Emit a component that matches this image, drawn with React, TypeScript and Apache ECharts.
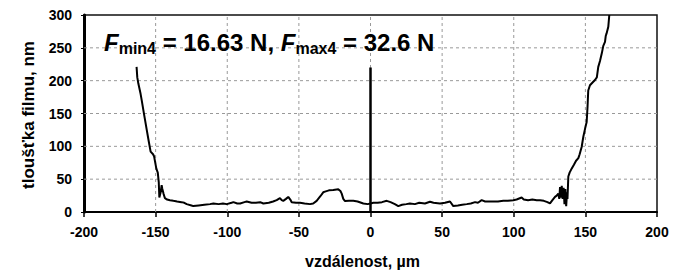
import React, { useEffect, useRef } from "react";
import * as echarts from "echarts";

const xAxisName = "vzdálenost, µm";
const yAxisName = "tloušťka filmu, nm";
const xGrid = [-150, -100, -50, 0, 50, 100, 150];
const yGrid = [50, 100, 150, 200, 250];

// film thickness profile: distance (µm) and thickness (nm)
const profileX = [
  -163.3, -162.8, -162.1, -160.5, -159.7, -158, -156.2, -155, -153.5, -151.8, -151.1, -149.5, -148.5, -147.8, -147.4,
  -146.5, -145.8, -145.3, -144.5, -143.5, -142, -140, -137.6, -135, -132, -130, -128.3, -125, -123.7, -120, -116,
  -112, -109.7, -106, -103, -100.3, -97, -95.7, -93, -91, -88, -86.4, -83, -80, -77, -74.8, -71, -68, -65.5, -63.2,
  -62, -60.9, -59, -57.4, -56, -55, -52, -49.2, -46, -42.2, -40, -37.6, -35, -33, -31.8, -29, -26, -22.5, -21, -20.1,
  -19, -17.8, -15, -12, -9, -5, -2, 0, 2, 5, 8, 11.3, 14, 17, 19.4, 22, 25, 27.5, 31, 34, 38, 41.5, 44, 48.5, 52,
  55.5, 57.8, 61, 64, 67.2, 70, 73, 75, 77.6, 80, 83, 85.8, 89, 92.7, 96, 99.7, 102, 105.5, 107, 110, 113, 116, 118.3,
  121, 123.5, 125.3, 127, 128.8, 130, 131.1, 131.8, 132.3, 132.9, 133.5, 134.1, 134.8, 135.4, 136, 136.6, 137.2, 137.5,
  138.1, 139, 140.4, 142, 143.5, 145.1, 146, 147.4, 148.6, 149.8, 150.9, 151.5, 152, 153.2, 154.5, 156.7, 158, 159,
  160.2, 161.5, 162.5, 163.7, 164.2, 164.8, 166, 166.7,
];
const profileY = [
  221, 205, 196, 180, 170, 148, 125, 110, 92, 88, 85, 66, 60, 45, 22,
  30, 41, 35, 28, 21, 19, 18, 17, 16, 15, 14, 12, 10, 9, 10, 11,
  12, 13, 12, 13, 12, 14, 15, 13, 13, 15, 16, 14, 14, 15, 13, 14, 16, 18, 21,
  18, 17, 20, 23, 19, 15, 14, 14, 13, 12, 13, 17, 24, 30, 31, 33, 33.5, 34.5, 32, 28,
  20, 16.7, 17, 17, 16, 13, 12, 13, 14, 14, 15, 17, 15, 12, 9, 11, 12, 13, 12, 14, 13, 15.7, 14, 13, 14,
  16, 9, 10, 11, 12, 13, 15, 14, 18, 16, 16, 16, 16, 17, 17, 18, 19, 22, 19, 18, 19, 18, 18,
  17, 15, 13, 18, 23, 25, 28, 20, 38, 22, 40, 20, 37, 12, 35, 9, 30, 20,
  54, 60, 66, 72, 78, 82, 88, 99, 115, 127, 137, 160, 185, 193, 196, 201, 205, 221,
  230, 242, 253, 259, 268, 272, 282, 300,
];

// vertical marker at the contact centre
const markerX = [0, 0];
const markerY = [0, 220];

const FONT = "'Liberation Sans', Arial, sans-serif";

export default function App() {
  const ref = useRef<HTMLDivElement>(null);

  useEffect(() => {
    if (!ref.current) return;
    const chart = echarts.init(ref.current, null, { renderer: "svg" });
    const profile = profileX.map((x, i) => [x, profileY[i]]);
    const marker = markerX.map((x, i) => [x, markerY[i]]);
    const gridStyle = { color: "#999", width: 1, type: [3, 3] };
    chart.setOption({
      animation: false,
      title: {
        left: 104,
        top: 29,
        padding: 0,
        text: "{F|F}{s|min4}{t| = 16.63 N, }{F|F}{s|max4}{t| = 32.6 N}",
        textStyle: {
          fontFamily: FONT,
          rich: {
            F: { fontSize: 24, fontStyle: "italic", fontWeight: "bold", fontFamily: FONT, color: "#000", lineHeight: 27 },
            s: { fontSize: 16, fontWeight: "bold", fontFamily: FONT, color: "#000", lineHeight: 13, verticalAlign: "bottom" },
            t: { fontSize: 24, fontWeight: "bold", fontFamily: FONT, color: "#000", lineHeight: 27 },
          },
        },
      },
      graphic: [
        {
          type: "text",
          left: 305,
          top: 253,
          style: { text: xAxisName, fontSize: 16, fontWeight: "bold", fontFamily: FONT, fill: "#000" },
        },
        {
          type: "text",
          x: 28,
          y: 115,
          rotation: Math.PI / 2,
          style: { text: yAxisName, fontSize: 17, fontWeight: "bold", fontFamily: FONT, fill: "#000", align: "center", verticalAlign: "middle" },
        },
      ],
      grid: { left: 84, right: 18, top: 15, bottom: 58, show: true, borderColor: "#111", borderWidth: 1.5 },
      xAxis: {
        type: "value",
        min: -200,
        max: 200,
        interval: 50,
        axisLine: { show: true, onZero: false, lineStyle: { color: "#000", width: 2 } },
        axisTick: { show: true, length: 5, lineStyle: { color: "#000", width: 1.5 } },
        axisLabel: { fontSize: 14, fontWeight: "bold", fontFamily: FONT, color: "#000", margin: 13 },
        splitLine: { show: false },
      },
      yAxis: {
        type: "value",
        min: 0,
        max: 300,
        interval: 50,
        axisLine: { show: true, onZero: false, lineStyle: { color: "#000", width: 3 } },
        axisTick: { show: true, length: 3, lineStyle: { color: "#000", width: 1 } },
        axisLabel: { fontSize: 14, fontWeight: "bold", fontFamily: FONT, color: "#000", margin: 12 },
        splitLine: { show: false },
      },
      series: [
        ...xGrid.map((x) => ({
          type: "line",
          data: [[x, 0], [x, 300]],
          symbol: "none",
          silent: true,
          lineStyle: gridStyle,
          z: 1,
        })),
        ...yGrid.map((y) => ({
          type: "line",
          data: [[-200, y], [200, y]],
          symbol: "none",
          silent: true,
          lineStyle: gridStyle,
          z: 1,
        })),
        {
          type: "line",
          data: profile,
          showSymbol: false,
          symbol: "none",
          lineStyle: { color: "#000", width: 2 },
          z: 3,
        },
        {
          type: "line",
          data: marker,
          showSymbol: false,
          symbol: "none",
          lineStyle: { color: "#000", width: 2.5 },
          z: 3,
        },
      ],
    });
    return () => chart.dispose();
  }, []);

  return <div ref={ref} style={{ width: 675, height: 270, position: "absolute", left: 0, top: 0 }} />;
}
